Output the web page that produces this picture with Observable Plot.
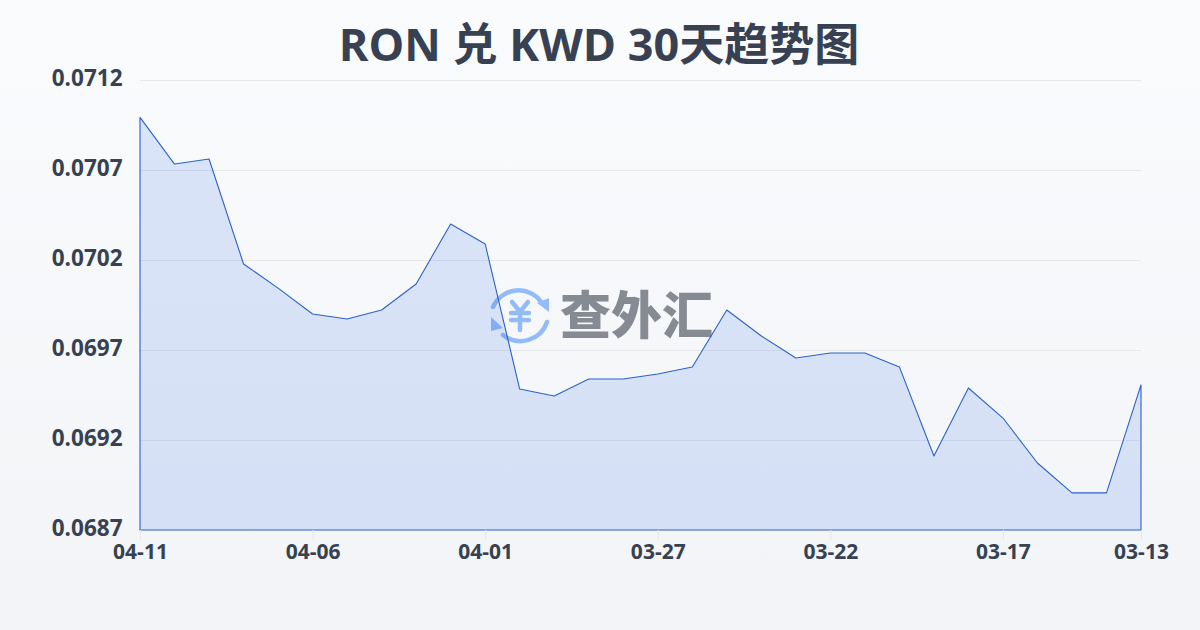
<!DOCTYPE html>
<html><head><meta charset="utf-8">
<script src="https://cdn.jsdelivr.net/npm/d3@7"></script>
<script src="https://cdn.jsdelivr.net/npm/@observablehq/plot@0.6"></script>
<style>
html,body{margin:0;padding:0;width:1200px;height:630px;overflow:hidden}
body{background:linear-gradient(180deg,#f9fbfd 0%,#f2f4f7 100%);position:relative;font-family:"Open Sans","Noto Sans CJK SC",sans-serif}
#title{position:absolute;left:0;top:14px;width:1198px;text-align:center;font:700 45px/60px "Open Sans","Noto Sans CJK SC",sans-serif;color:#374151}
#logo{position:absolute;left:488px;top:280px;width:240px;height:70px}
#chart{position:absolute;left:0;top:0}
#chart svg{background:transparent;display:block}
</style></head><body>
<div id="logo"><svg width="240" height="70" viewBox="0 -4 240 70">
<g fill="none" stroke="#93bbf8" stroke-width="4.5" stroke-linecap="round">
<path d="M5 23A28 28 0 0 1 54 19"/><path d="M59 38A28 28 0 0 1 15 51"/>
<path d="M24 18L32 28L40 18M23 29H41M23 36H41M32 28V46" stroke-width="4.5"/>
</g>
<path d="M49 19L61 14L61 28Z" fill="#93bbf8"/><path d="M3 33L15 44L3 47Z" fill="#93bbf8"/>
<text x="72" y="50" font-family="Noto Sans CJK SC" font-weight="900" font-size="51" fill="#868a93">查外汇</text>
</svg></div>
<div id="title">RON 兑 KWD 30天趋势图</div>
<div id="chart"></div>
<script>
const dates = ["04-11","04-10","04-09","04-08","04-07","04-06","04-05","04-04","04-03","04-02","04-01","03-31","03-30","03-29","03-28","03-27","03-26","03-25","03-24","03-23","03-22","03-21","03-20","03-19","03-18","03-17","03-16","03-15","03-14","03-13"];
const rates = [0.070992,0.070733,0.070761,0.070178,0.070044,0.0699,0.069872,0.069922,0.070067,0.0704,0.070289,0.069483,0.069444,0.069539,0.069539,0.069567,0.069606,0.069922,0.069778,0.069656,0.069683,0.069683,0.069606,0.069111,0.069489,0.069322,0.069072,0.068906,0.068906,0.069506];
const yTicks = [0.0687,0.0692,0.0697,0.0702,0.0707,0.0712];
const xTicks = ["04-11","04-06","04-01","03-27","03-22","03-17","03-13"];
const yMin = 0.0687, yMax = 0.0712;
const rows = dates.map((d,i)=>({date:d,rate:rates[i]}));
const font = '"Open Sans","Noto Sans",sans-serif';
const plot = Plot.plot({
  width:1200,height:630,marginTop:80,marginBottom:100,marginLeft:140,marginRight:59,
  style:{background:"transparent",fontFamily:font},
  x:{type:"point",domain:dates,padding:0,round:false,label:null},
  y:{domain:[yMin,yMax],label:null},
  marks:[
    Plot.ruleY(yTicks.slice(1),{stroke:"#e5e7eb",strokeWidth:1}),
    Plot.areaY(rows,{x:"date",y1:yMin,y2:"rate",fill:"#2563eb",fillOpacity:0.14,stroke:"#2b62c9",strokeWidth:1.1}),
    Plot.axisY({ticks:yTicks,tickSize:0,tickPadding:18,dy:-1.5,tickFormat:d=>d.toFixed(4),fontSize:22.5,fontWeight:700,color:"#374151",label:null}),
    Plot.axisX({ticks:xTicks,tickSize:10,tickPadding:4,fontSize:21,fontWeight:700,fill:"#374151",stroke:"#e5e7eb",label:null})
  ]
});
document.getElementById("chart").appendChild(plot);
</script></body></html>
